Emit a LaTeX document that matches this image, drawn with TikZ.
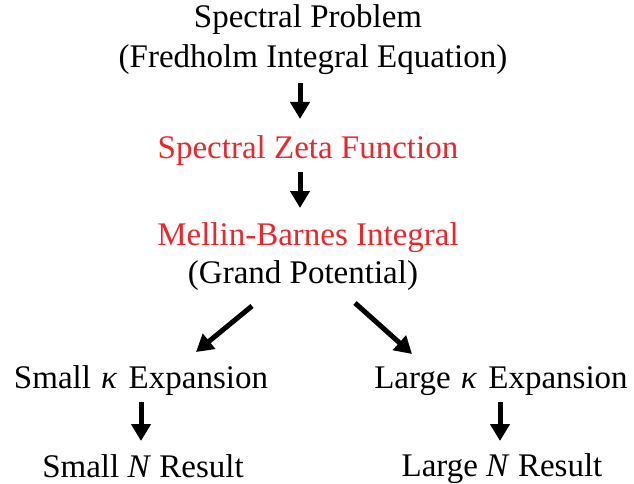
\documentclass[tikz,border=0pt]{standalone}
\usepackage{fontspec}
\setmainfont{Liberation Serif}
\usetikzlibrary{arrows.meta}
\definecolor{zred}{RGB}{232,40,44}
\begin{document}
\begin{tikzpicture}[x=1pt,y=1pt,
  lbl/.style={font=\fontsize{33}{40}\selectfont, inner sep=0pt, anchor=base},
  redlbl/.style={lbl, text=zred},
  flow/.style={line width=5pt, -{Triangle[width=19pt,length=17pt]}}]
\useasboundingbox (0,0) rectangle (634,483);
\node[lbl] (p1) at (308,483-28) {Spectral Problem};
\node[lbl] (p2) at (313,483-68) {(Fredholm Integral Equation)};
\node[redlbl] (z) at (308,483-158) {Spectral Zeta Function};
\node[redlbl] (m) at (308,483-245) {Mellin-Barnes Integral};
\node[lbl] (g) at (303,483-283) {(Grand Potential)};
\node[lbl] (sk) at (141,483-388) {Small \kern2pt\textit{κ}\kern3pt\ Expansion};
\node[lbl] (lk) at (501,483-388) {Large \kern2pt\textit{κ}\kern3pt\ Expansion};
\node[lbl] (sn) at (143,483-477) {Small \textit{N} Result};
\node[lbl] (ln) at (502,483-476) {Large \textit{N} Result};
\coordinate (a1s) at (300,483-83);  \coordinate (a1e) at (300,483-119);
\coordinate (a2s) at (300,483-172); \coordinate (a2e) at (300,483-208);
\coordinate (a3s) at (252,483-306); \coordinate (a3e) at (196,483-352);
\coordinate (a4s) at (355,483-303); \coordinate (a4e) at (412,483-354);
\coordinate (a5s) at (141,483-402); \coordinate (a5e) at (141,483-441);
\coordinate (a6s) at (500,483-402); \coordinate (a6e) at (500,483-441);
\draw[flow] (a1s) -- (a1e);
\draw[flow] (a2s) -- (a2e);
\draw[flow] (a3s) -- (a3e);
\draw[flow] (a4s) -- (a4e);
\draw[flow] (a5s) -- (a5e);
\draw[flow] (a6s) -- (a6e);
\end{tikzpicture}
\end{document}
